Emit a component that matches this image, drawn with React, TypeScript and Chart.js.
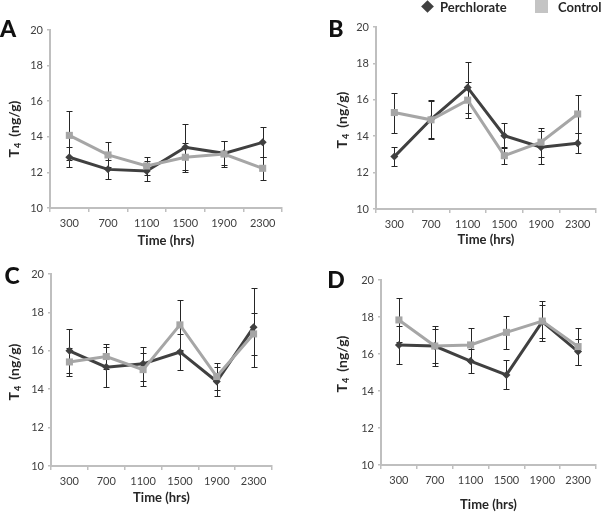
import React, { useEffect, useRef } from 'react';
import { Chart, registerables } from 'chart.js';
Chart.register(...registerables);

// ---- data ----
const timeLabels = ['300', '700', '1100', '1500', '1900', '2300'];
const yMin = 10;
const yMax = 20;
const yStep = 2;

const perchA = [12.85, 12.17, 12.08, 13.41, 13.07, 13.69];
const perchAErr = [0.57, 0.55, 0.55, 1.3, 0.68, 0.85];
const ctrlA = [14.08, 12.98, 12.36, 12.85, 13.03, 12.23];
const ctrlAErr = [1.38, 0.7, 0.52, 0.8, 0.72, 0.65];

const perchB = [12.88, 14.93, 16.67, 14.03, 13.39, 13.61];
const perchBErr = [0.5, 1.05, 1.4, 0.68, 0.9, 0.55];
const ctrlB = [15.3, 14.9, 15.98, 12.93, 13.67, 15.22];
const ctrlBErr = [1.1, 1.05, 1.0, 0.48, 0.8, 1.05];

const perchC = [16.0, 15.15, 15.32, 15.94, 14.4, 17.23];
const perchCErr = [1.15, 1.05, 0.9, 0.92, 0.78, 2.05];
const ctrlC = [15.42, 15.7, 15.02, 17.35, 14.66, 16.88];
const ctrlCErr = [0.75, 0.65, 0.85, 1.3, 0.7, 1.1];

const perchD = [16.49, 16.43, 15.62, 14.87, 17.75, 16.13];
const perchDErr = [1.05, 0.9, 0.66, 0.78, 0.9, 0.7];
const ctrlD = [17.84, 16.43, 16.49, 17.17, 17.78, 16.4];
const ctrlDErr = [1.17, 1.1, 0.9, 0.88, 1.1, 1.0];

const seriesNames = ['Perchlorate', 'Control'];
const xTitle = 'Time (hrs)';

// ---- styles ----
const PERCH = '#404040';
const CTRL = '#a6a6a6';
const ERR = '#262626';
const AXIS = '#bfbfbf';
const TXT = '#404040';
const FONT = 'Lato, "Open Sans", sans-serif';

type Spec = {
  letter: string;
  left: number; top: number; w: number; h: number;
  padL: number; padT: number; padR: number;
  yW: number; xH: number; xTitlePad: number;
  yTitleX: number; yTitleY: number;
  letterX: number; letterY: number;
  perch: number[]; perchErr: number[]; ctrl: number[]; ctrlErr: number[];
};

const specs: Spec[] = [
  { letter: 'A', left: 0, top: 0, w: 300, h: 250, padL: 0, padT: 30, padR: 18, yW: 50, xH: 42, xTitlePad: 1,
    yTitleX: 14, yTitleY: 129, letterX: 8, letterY: 28,
    perch: perchA, perchErr: perchAErr, ctrl: ctrlA, ctrlErr: ctrlAErr },
  { letter: 'B', left: 300, top: 0, w: 301, h: 250, padL: 0, padT: 27, padR: 4, yW: 76, xH: 41, xTitlePad: 2,
    yTitleX: 42, yTitleY: 120, letterX: 36, letterY: 28,
    perch: perchB, perchErr: perchBErr, ctrl: ctrlB, ctrlErr: ctrlBErr },
  { letter: 'C', left: 0, top: 250, w: 300, h: 263, padL: 0, padT: 24, padR: 28, yW: 51, xH: 47, xTitlePad: 7,
    yTitleX: 14, yTitleY: 122, letterX: 12, letterY: 25,
    perch: perchC, perchErr: perchCErr, ctrl: ctrlC, ctrlErr: ctrlCErr },
  { letter: 'D', left: 300, top: 250, w: 301, h: 263, padL: 0, padT: 30, padR: 4, yW: 81, xH: 48, xTitlePad: 0,
    yTitleX: 42, yTitleY: 114, letterX: 36, letterY: 29,
    perch: perchD, perchErr: perchDErr, ctrl: ctrlD, ctrlErr: ctrlDErr },
];

function Panel({ spec }: { spec: Spec }) {
  const ref = useRef<HTMLCanvasElement | null>(null);
  useEffect(() => {
    if (!ref.current) return;
    const errPlugin = {
      id: 'errbars',
      beforeDatasetsDraw(chart: any) {
        const ctx = chart.ctx;
        const xs = chart.scales.x;
        const ys = chart.scales.y;
        const groups = [
          { v: spec.perch, e: spec.perchErr },
          { v: spec.ctrl, e: spec.ctrlErr },
        ];
        ctx.save();
        ctx.strokeStyle = ERR;
        ctx.lineWidth = 1;
        groups.forEach((g) => {
          g.v.forEach((val, i) => {
            const px = Math.round(xs.getPixelForValue(i)) + 0.5;
            const t = Math.round(ys.getPixelForValue(val + g.e[i])) + 0.5;
            const b = Math.round(ys.getPixelForValue(val - g.e[i])) + 0.5;
            ctx.beginPath();
            ctx.moveTo(px, t); ctx.lineTo(px, b);
            ctx.moveTo(px - 3, t); ctx.lineTo(px + 3, t);
            ctx.moveTo(px - 3, b); ctx.lineTo(px + 3, b);
            ctx.stroke();
          });
        });
        ctx.restore();
      },
    };
    const yTitlePlugin = {
      id: 'ytitle',
      afterDraw(chart: any) {
        const ctx = chart.ctx;
        ctx.save();
        ctx.translate(spec.yTitleX, spec.yTitleY);
        ctx.rotate(-Math.PI / 2);
        ctx.fillStyle = '#262626';
        ctx.textBaseline = 'middle';
        ctx.textAlign = 'left';
        const big = `bold 14px ${FONT}`;
        const small = `bold 9px ${FONT}`;
        const gap = 6;
        ctx.font = big; const wT = ctx.measureText('T').width;
        ctx.font = small; const w4 = ctx.measureText('4').width;
        ctx.font = big; const wR = ctx.measureText('(ng/g)').width;
        const start = -(wT + w4 + 1 + gap + wR) / 2;
        ctx.font = big; ctx.fillText('T', start, 0);
        ctx.font = small; ctx.fillText('4', start + wT + 1, 4);
        ctx.font = big; ctx.fillText('(ng/g)', start + wT + w4 + 1 + gap, 0);
        ctx.restore();
      },
    };
    const chart = new Chart(ref.current, {
      type: 'line',
      data: {
        labels: timeLabels,
        datasets: [
          {
            label: seriesNames[1], data: spec.ctrl, borderColor: CTRL, backgroundColor: CTRL,
            pointStyle: 'rect', pointRadius: 5, pointBorderWidth: 0, borderWidth: 3, tension: 0,
            pointBorderColor: CTRL, pointBackgroundColor: CTRL,
          },
          {
            label: seriesNames[0], data: spec.perch, borderColor: PERCH, backgroundColor: PERCH,
            pointStyle: 'rectRot', pointRadius: 4, pointBorderWidth: 0, borderWidth: 3, tension: 0,
            pointBorderColor: PERCH, pointBackgroundColor: PERCH,
          },
        ],
      },
      options: {
        responsive: false,
        animation: false,
        devicePixelRatio: 1,
        layout: { padding: { left: spec.padL, top: spec.padT, right: spec.padR, bottom: 0 } },
        plugins: { legend: { display: false }, tooltip: { enabled: false } },
        scales: {
          x: {
            type: 'category',
            offset: true,
            grid: { offset: true, drawOnChartArea: false, drawTicks: true, tickLength: 4, color: AXIS, lineWidth: 1.5 },
            border: { display: true, color: AXIS, width: 2 },
            ticks: { font: { family: FONT, size: 11 }, color: TXT, padding: 5, maxRotation: 0, autoSkip: false },
            title: {
              display: true, text: xTitle, color: '#262626',
              font: { family: FONT, size: 13, weight: 'bold' },
              padding: { top: 0, bottom: spec.xTitlePad },
            },
            afterFit: (s: any) => { s.height = spec.xH; },
          } as any,
          y: {
            min: yMin, max: yMax,
            ticks: { stepSize: yStep, font: { family: FONT, size: 11 }, color: TXT, padding: 4 },
            grid: { drawOnChartArea: false, drawTicks: true, tickLength: 3, color: AXIS, lineWidth: 1.5 },
            border: { display: true, color: AXIS, width: 2 },
            afterFit: (s: any) => { s.width = spec.yW; },
          } as any,
        },
      },
      plugins: [errPlugin, yTitlePlugin],
    });
    return () => chart.destroy();
  }, [spec]);
  return (
    <div style={{ position: 'absolute', left: spec.left, top: spec.top, width: spec.w, height: spec.h }}>
      <canvas ref={ref} width={spec.w} height={spec.h} style={{ display: 'block', width: spec.w, height: spec.h }} />
      <div style={{
        position: 'absolute', left: spec.letterX, top: spec.letterY, transform: 'translate(-50%, -50%)',
        font: `900 23px ${FONT}`, color: '#111', lineHeight: '1',
      }}>{spec.letter}</div>
    </div>
  );
}

export default function App() {
  return (
    <div style={{ position: 'absolute', left: 0, top: 0, width: 601, height: 513, background: '#fff', overflow: 'hidden' }}>
      {specs.map((s) => <Panel key={s.letter} spec={s} />)}
      <div style={{ position: 'absolute', left: 0, top: 0, width: 601, height: 20, font: `bold 13px ${FONT}`, color: '#262626' }}>
        <div style={{ position: 'absolute', left: 423, top: 2, width: 9, height: 9, background: PERCH, transform: 'rotate(45deg)' }} />
        <div style={{ position: 'absolute', left: 440, top: 0, lineHeight: '14px', whiteSpace: 'nowrap' }}>{seriesNames[0]}</div>
        <div style={{ position: 'absolute', left: 535, top: 0, width: 13, height: 13, background: '#c4c4c4' }} />
        <div style={{ position: 'absolute', left: 558, top: 0, lineHeight: '14px', whiteSpace: 'nowrap' }}>{seriesNames[1]}</div>
      </div>
    </div>
  );
}
